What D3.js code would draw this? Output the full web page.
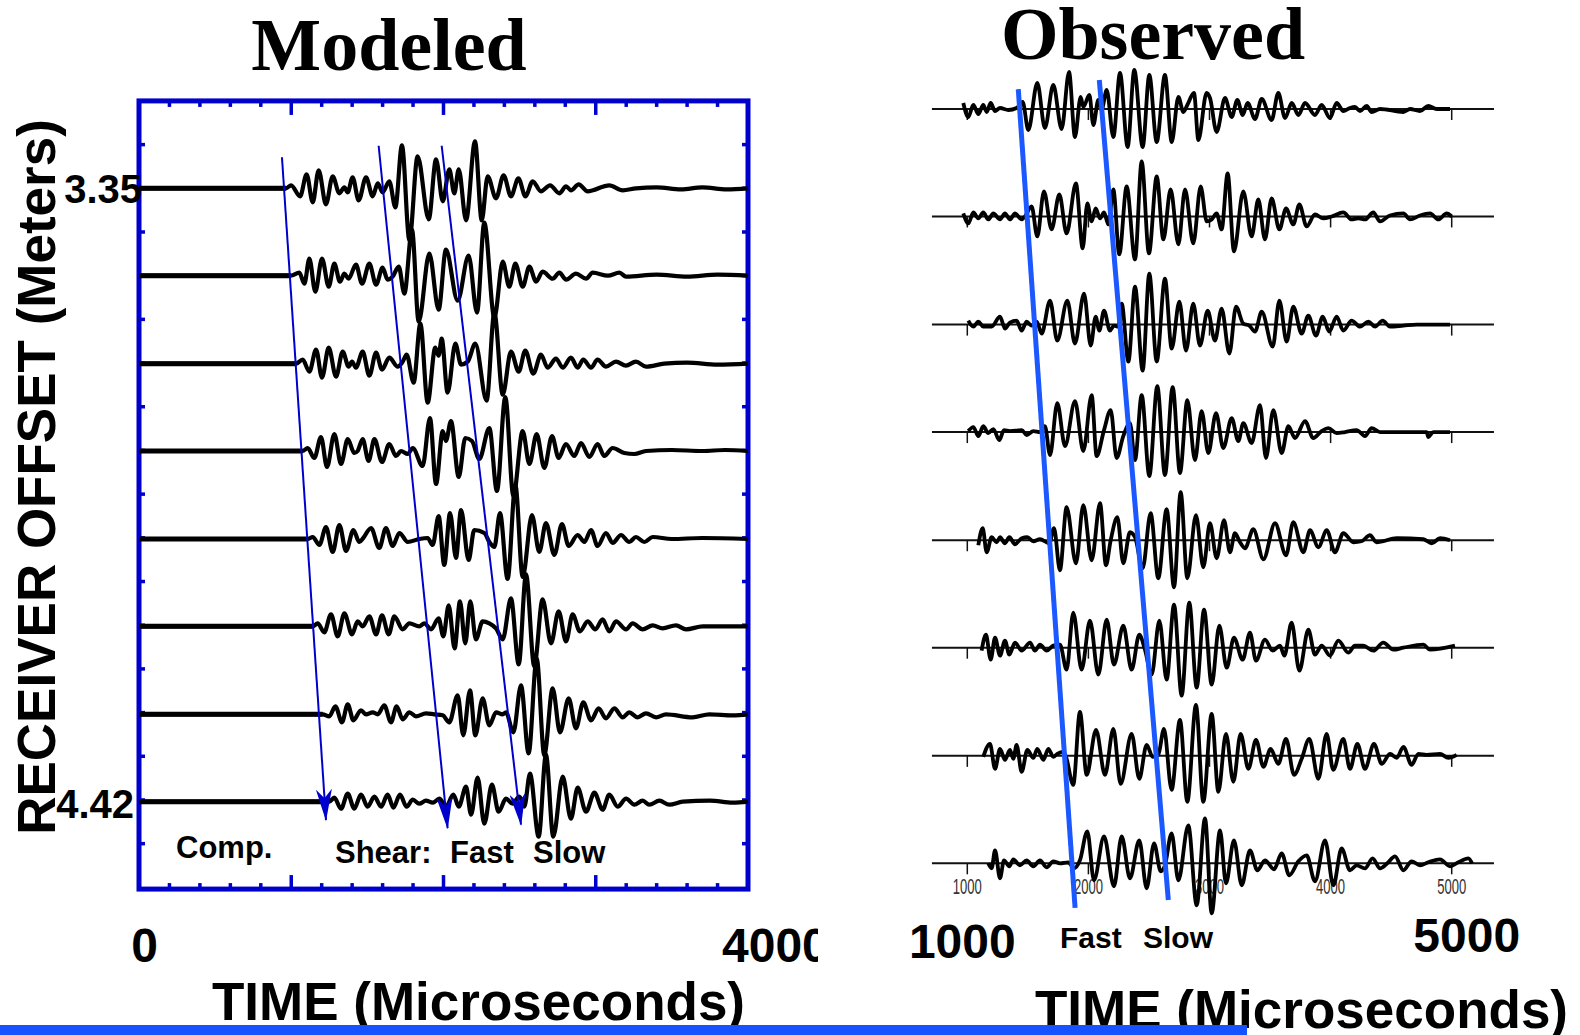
<!DOCTYPE html>
<html>
<head>
<meta charset="utf-8">
<script src="https://cdn.jsdelivr.net/npm/d3@7"></script>
<style>
  html, body { margin: 0; padding: 0; background: #fff; }
  svg { display: block; }
</style>
</head>
<body>
<svg id="chart" width="1580" height="1035"></svg>
<script>
// Receiver offsets (m), one per trace, top to bottom
const offsets = [3.350, 3.502, 3.655, 3.807, 3.960, 4.112, 4.265, 4.417];
const offsetTickValues = [3.35, 4.42];

// Modeled waveforms: [time (µs), amplitude] at successive turning points
const modeled1 = [[0,0],[966,0],[999,3],[1058,-8],[1101,14],[1141,-14],[1180,18],[1228,-16],[1272,12],[1316,-5],[1349,1],[1371,-4],[1403,11],[1443,-12],[1491,11],[1535,-8],[1568,5],[1600,-4],[1644,7],[1684,-19],[1727,43],[1776,-52],[1830,32],[1903,-31],[1951,29],[1995,-13],[2038,19],[2071,-5],[2100,19],[2148,-32],[2207,47],[2251,-32],[2290,12],[2345,-10],[2395,13],[2443,-8],[2492,10],[2538,-8],[2586,7],[2640,-3],[2700,3],[2761,-5],[2805,2],[2837,-2],[2888,4],[2947,-3],[3089,3],[3177,-2],[3264,0],[3400,1],[3560,-1],[3700,1],[3860,-1],[4000,0]];
const modeled2 = [[0,0],[998,0],[1053,3],[1086,-8],[1119,17],[1158,-16],[1202,17],[1246,-11],[1283,12],[1320,-6],[1349,2],[1377,-3],[1425,11],[1465,-8],[1513,12],[1557,-9],[1600,8],[1633,-4],[1666,-1],[1706,9],[1743,-18],[1793,46],[1837,-46],[1907,22],[1968,-34],[2016,26],[2093,-25],[2165,20],[2220,-37],[2268,53],[2334,-42],[2389,14],[2432,-11],[2472,12],[2520,-11],[2564,9],[2608,-6],[2651,4],[2717,-3],[2761,3],[2805,-4],[2870,2],[2936,-3],[2980,3],[3080,0],[3155,3],[3199,-1],[3400,1],[3600,-1],[3800,1],[4000,0]];
const modeled3 = [[0,0],[1031,0],[1075,4],[1119,-8],[1163,14],[1202,-14],[1246,16],[1294,-13],[1338,12],[1377,-3],[1399,2],[1425,-4],[1469,12],[1513,-12],[1557,11],[1596,-6],[1644,6],[1699,-3],[1732,2],[1758,9],[1804,-19],[1848,40],[1896,-39],[1946,16],[1968,8],[1988,25],[2027,-29],[2078,20],[2115,-1],[2159,2],[2209,20],[2283,-37],[2334,51],[2389,-31],[2443,12],[2494,-8],[2537,13],[2590,-10],[2640,9],[2684,-4],[2739,5],[2783,-4],[2837,6],[2881,-4],[2918,4],[2969,-4],[3012,4],[3067,-3],[3133,2],[3198,-2],[3264,2],[3330,-3],[3450,0],[3600,1],[3800,-1],[4000,0]];
const modeled4 = [[0,0],[1075,0],[1108,3],[1152,-7],[1195,14],[1235,-16],[1283,17],[1327,-13],[1371,12],[1414,-2],[1436,0],[1469,12],[1508,-10],[1546,12],[1596,-11],[1644,7],[1688,-5],[1721,0],[1765,-3],[1798,3],[1863,-15],[1911,33],[1951,-33],[1995,20],[2016,10],[2049,30],[2100,-26],[2143,13],[2187,10],[2235,-8],[2301,23],[2351,-40],[2406,54],[2459,-45],[2520,20],[2564,-13],[2612,17],[2662,-17],[2713,15],[2756,-7],[2804,7],[2859,-5],[2903,8],[2958,-6],[3012,7],[3056,-5],[3111,3],[3188,-2],[3253,-3],[3330,0],[3500,1],[3700,0],[3850,1],[4000,0]];
const modeled5 = [[0,0],[1108,0],[1141,2],[1185,-6],[1228,12],[1272,-13],[1316,14],[1360,-12],[1408,9],[1447,-3],[1473,1],[1524,11],[1578,-9],[1622,11],[1666,-7],[1710,6],[1765,-3],[1841,0],[1896,1],[1929,-6],[1968,23],[2005,-26],[2043,26],[2082,-19],[2115,29],[2165,-21],[2202,9],[2268,6],[2301,-3],[2334,-8],[2371,26],[2421,-40],[2472,54],[2520,-38],[2581,24],[2629,-13],[2673,16],[2728,-16],[2778,15],[2822,-7],[2881,4],[2925,-3],[2969,9],[3012,-7],[3067,6],[3111,-4],[3166,4],[3220,-3],[3264,2],[3319,-3],[3374,2],[3500,0],[3700,1],[4000,0]];
const modeled6 = [[0,0],[1141,0],[1174,3],[1217,-6],[1261,12],[1305,-10],[1349,13],[1399,-8],[1436,5],[1469,0],[1513,10],[1557,-8],[1596,11],[1640,-8],[1677,10],[1732,-3],[1776,3],[1841,0],[1874,3],[1918,-3],[1968,8],[1999,-10],[2034,21],[2073,-22],[2108,25],[2143,-17],[2176,25],[2213,-13],[2257,5],[2301,3],[2345,-2],[2389,-13],[2443,28],[2494,-38],[2542,52],[2596,-40],[2651,27],[2706,-17],[2756,15],[2805,-15],[2848,12],[2896,-5],[2947,5],[2997,-3],[3045,7],[3089,-5],[3133,5],[3199,-3],[3242,3],[3308,-3],[3374,1],[3439,-2],[3527,1],[3593,-3],[3702,0],[4000,0]];
const modeled7 = [[0,0],[1206,0],[1250,-2],[1290,8],[1333,-8],[1371,10],[1408,-6],[1458,4],[1491,0],[1535,2],[1568,0],[1611,9],[1655,-8],[1692,8],[1732,-5],[1776,2],[1819,-2],[1885,1],[1940,0],[1995,-1],[2038,-8],[2093,19],[2130,-21],[2174,24],[2209,-21],[2257,16],[2301,-11],[2345,2],[2389,0],[2410,2],[2459,-18],[2509,29],[2559,-39],[2612,56],[2662,-41],[2717,26],[2765,-18],[2822,16],[2870,-14],[2918,12],[2969,-6],[3019,6],[3067,-4],[3122,6],[3177,-3],[3220,2],[3275,-3],[3330,1],[3396,-3],[3461,0],[3636,-3],[3746,0],[3900,-1],[4000,0]];
const modeled8 = [[0,0],[1250,0],[1283,4],[1327,-7],[1371,8],[1414,-7],[1458,7],[1502,-5],[1546,5],[1590,-5],[1633,7],[1671,-6],[1714,7],[1758,-5],[1798,2],[1841,-2],[1885,1],[1929,-1],[1973,3],[2016,-5],[2065,7],[2100,-5],[2148,15],[2181,-13],[2224,24],[2268,-22],[2318,17],[2362,-10],[2410,3],[2454,-2],[2498,5],[2531,-5],[2568,28],[2625,-35],[2673,47],[2721,-35],[2783,25],[2837,-17],[2881,14],[2936,-10],[2991,9],[3045,-8],[3089,7],[3144,-5],[3199,3],[3253,-3],[3308,1],[3352,-3],[3418,1],[3483,-3],[3571,0],[3750,1],[3900,-1],[4000,0]];

// Observed waveforms: [time (µs), amplitude] at successive turning points
const observed1 = [[967,6],[1008,-8],[1050,4],[1091,-5],[1132,4],[1160,-3],[1193,6],[1229,-2],[1270,1],[1339,-1],[1407,1],[1457,7],[1504,-21],[1578,26],[1641,-19],[1710,24],[1779,-20],[1840,37],[1889,-28],[1936,12],[1958,2],[2008,14],[2041,-16],[2082,9],[2109,-1],[2151,19],[2206,-28],[2261,36],[2324,-38],[2379,39],[2448,-38],[2503,34],[2564,-33],[2632,34],[2688,-33],[2743,12],[2784,-3],[2817,4],[2872,16],[2908,-31],[2976,16],[3004,11],[3059,-23],[3128,11],[3183,-8],[3230,9],[3274,-6],[3315,6],[3376,-10],[3431,10],[3513,-11],[3568,16],[3624,-9],[3679,6],[3734,-6],[3789,6],[3871,-6],[3926,4],[3995,-9],[4050,6],[4105,-2],[4160,1],[4201,2],[4243,-2],[4298,3],[4339,-3],[4408,0],[4601,-3],[4656,0],[4738,-2],[4807,3],[4876,0],[4986,0]];
const observed2 = [[967,3],[1008,-7],[1050,4],[1091,-2],[1132,4],[1173,-3],[1215,3],[1270,-3],[1311,3],[1352,-3],[1394,3],[1449,-3],[1476,0],[1531,10],[1578,-20],[1633,25],[1696,-13],[1760,22],[1820,-17],[1897,33],[1953,-32],[1991,13],[2027,-5],[2060,8],[2096,-2],[2129,4],[2165,-8],[2206,27],[2255,-38],[2316,30],[2385,-43],[2440,55],[2500,-37],[2564,40],[2619,-23],[2679,27],[2743,-28],[2798,27],[2866,-27],[2927,30],[2977,-5],[3018,-3],[3059,3],[3100,-13],[3150,43],[3202,-35],[3279,25],[3348,-20],[3403,17],[3458,-23],[3513,18],[3577,-13],[3632,8],[3692,-8],[3742,12],[3802,-10],[3871,2],[3940,-2],[4009,0],[4105,4],[4174,-3],[4229,-2],[4284,-3],[4353,4],[4408,-5],[4490,1],[4601,3],[4656,-3],[4738,1],[4821,3],[4890,-3],[4958,3],[5000,0]];
const observed3 = [[1008,4],[1050,-2],[1091,3],[1132,-2],[1201,-2],[1270,8],[1311,-4],[1352,2],[1407,4],[1449,-6],[1490,3],[1531,-1],[1573,3],[1614,-9],[1683,24],[1743,-16],[1826,24],[1889,-19],[1964,31],[2019,-21],[2060,8],[2090,-6],[2129,14],[2178,-6],[2211,-1],[2247,-2],[2275,21],[2330,-37],[2385,38],[2448,-46],[2503,51],[2564,-37],[2632,46],[2688,-24],[2751,23],[2806,-26],[2866,21],[2921,-21],[2985,14],[3045,-16],[3100,16],[3164,-29],[3219,18],[3279,1],[3329,-1],[3376,-7],[3431,13],[3522,-22],[3577,24],[3637,-17],[3692,18],[3761,-9],[3816,9],[3879,-11],[3935,8],[3989,-7],[4050,8],[4105,-6],[4174,4],[4243,-2],[4312,3],[4367,-2],[4430,4],[4490,-2],[4601,-1],[4711,0],[4986,0]];
const observed4 = [[1008,1],[1050,5],[1091,-4],[1132,6],[1173,-1],[1215,3],[1264,-8],[1303,2],[1352,1],[1449,2],[1490,-3],[1545,1],[1600,0],[1641,6],[1683,-23],[1743,29],[1807,-14],[1889,31],[1958,-19],[2027,37],[2068,-24],[2129,2],[2184,22],[2233,-26],[2288,-4],[2343,9],[2385,-28],[2440,37],[2503,-44],[2569,46],[2632,-43],[2696,45],[2756,-41],[2817,32],[2880,-28],[2935,21],[2990,-21],[3054,19],[3114,-16],[3183,14],[3238,-9],[3279,9],[3348,-11],[3417,27],[3466,-26],[3527,22],[3596,-21],[3651,6],[3706,-6],[3789,11],[3857,-6],[3926,1],[3981,4],[4050,-1],[4119,0],[4215,2],[4284,-4],[4339,4],[4408,0],[4793,0],[4807,-5],[4848,0],[4986,0]];
const observed5 = [[1091,-5],[1127,12],[1160,-12],[1201,3],[1242,-2],[1270,3],[1311,-3],[1347,3],[1394,-4],[1449,2],[1496,3],[1545,-1],[1600,1],[1677,-3],[1716,12],[1765,-30],[1820,33],[1897,-23],[1958,35],[2027,-20],[2096,37],[2145,-25],[2184,0],[2239,23],[2288,-23],[2343,8],[2385,3],[2448,-28],[2514,27],[2577,-38],[2646,31],[2707,-47],[2762,48],[2817,-38],[2888,25],[2949,-27],[3004,17],[3059,-18],[3120,20],[3169,-12],[3210,7],[3252,-2],[3293,-8],[3362,11],[3445,-19],[3541,17],[3632,-15],[3692,18],[3775,-12],[3830,10],[3899,-7],[3968,10],[4036,-12],[4105,7],[4188,-2],[4256,-1],[4325,5],[4380,-2],[4546,2],[4766,1],[4835,-3],[4904,2],[4986,0]];
const observed6 = [[1118,-3],[1154,13],[1193,-12],[1229,10],[1270,-8],[1311,7],[1347,-7],[1394,5],[1449,-3],[1518,5],[1559,-3],[1600,3],[1655,-3],[1710,2],[1765,3],[1820,-22],[1875,35],[1944,-22],[2013,27],[2082,-27],[2151,28],[2211,-17],[2288,22],[2357,-22],[2420,13],[2467,-2],[2522,-27],[2586,27],[2646,-32],[2707,43],[2770,-48],[2833,45],[2894,-40],[2955,38],[3018,-37],[3081,22],[3142,-20],[3202,10],[3274,-12],[3334,15],[3384,-13],[3458,8],[3522,-3],[3582,2],[3618,-8],[3678,25],[3742,-23],[3816,18],[3871,-7],[3926,2],[3995,-8],[4064,7],[4146,-5],[4201,2],[4270,2],[4353,-3],[4435,5],[4518,-2],[4601,0],[4766,3],[4821,-2],[5027,2]];
const observed7 = [[1132,-1],[1187,12],[1229,-13],[1270,7],[1311,-4],[1352,6],[1380,-3],[1407,11],[1449,-16],[1496,6],[1545,-2],[1578,7],[1628,-4],[1669,7],[1710,-1],[1743,2],[1793,4],[1815,-1],[1875,-29],[1930,44],[1986,-19],[2063,26],[2137,-19],[2206,27],[2266,-28],[2357,22],[2420,-23],[2481,11],[2531,-1],[2577,1],[2624,27],[2687,-34],[2756,36],[2817,-46],[2888,51],[2949,-46],[3018,42],[3073,-36],[3136,22],[3197,-26],[3257,22],[3321,-13],[3384,16],[3445,-11],[3505,7],[3568,-8],[3632,17],[3698,-19],[3761,-3],[3824,17],[3899,-23],[3967,22],[4022,-14],[4105,17],[4160,-13],[4221,12],[4284,-13],[4358,12],[4422,-8],[4491,2],[4546,-2],[4601,9],[4669,-9],[4725,2],[4793,1],[4903,2],[4972,-2],[5041,1]];
const observed8 = [[1173,0],[1201,-5],[1229,13],[1270,-15],[1303,3],[1347,-3],[1380,4],[1435,-2],[1490,3],[1545,-3],[1600,3],[1655,-4],[1710,2],[1765,0],[1834,1],[1881,-5],[1930,3],[1991,32],[2046,-17],[2129,27],[2211,-23],[2275,27],[2343,-15],[2420,23],[2481,-25],[2542,20],[2597,-8],[2632,-2],[2687,30],[2743,-17],[2825,38],[2894,-42],[2963,45],[3018,-50],[3087,33],[3136,-20],[3202,23],[3266,-22],[3334,13],[3395,-7],[3458,3],[3533,-6],[3596,10],[3659,-12],[3734,2],[3802,8],[3871,-18],[3954,23],[4023,-22],[4091,15],[4160,-7],[4215,-2],[4284,-5],[4347,5],[4408,-5],[4468,0],[4532,7],[4601,-7],[4669,2],[4738,-2],[4807,1],[4903,4],[4986,-3],[5055,1],[5138,5],[5168,0]];

// Arrival moveout picks: [time (µs), offset (m)] at both ends
const modeledCompPick = [[939, 3.296], [1228, 4.449]];
const modeledFastPick = [[1574, 3.276], [2027, 4.463]];
const modeledSlowPick = [[1988, 3.276], [2509, 4.457]];
const observedFastPick = [[1421, 3.322], [1890, 4.480]];
const observedSlowPick = [[2090, 3.309], [2660, 4.469]];

// Time axes
const modeledTimeRange = [0, 4000];
const observedTimeTicks = [1000, 2000, 3000, 4000, 5000];
const observedTimeSpan = [708, 5349];

const modeledTraces = [modeled1, modeled2, modeled3, modeled4, modeled5, modeled6, modeled7, modeled8];
const observedTraces = [observed1, observed2, observed3, observed4, observed5, observed6, observed7, observed8];

const SANS = "'Liberation Sans', Arial, Helvetica, sans-serif";
const SERIF = "'Liberation Serif', 'Times New Roman', serif";
const FRAME_BLUE = "#0000cc";
const PICK_BLUE = "#1c58ff";

const svg = d3.select("#chart");
const defs = svg.append("defs");

// ---------- scales ----------
const xL = d3.scaleLinear().domain(modeledTimeRange).range([139, 748]);
const yL = d3.scaleLinear().domain([offsets[0], offsets[offsets.length - 1]]).range([188.3, 801.7]);
const xR = d3.scaleLinear().domain([1000, 5000]).range([967.3, 1451.7]);
const yR = d3.scaleLinear().domain([offsets[0], offsets[offsets.length - 1]]).range([109, 863.3]);
const amp = d3.scaleLinear().domain([0, 10]).range([0, -10]);
const step = offsets[1] - offsets[0];

// ---------- modeled panel ----------
const left = svg.append("g").attr("class", "modeled");

const fx0 = xL(modeledTimeRange[0]), fx1 = xL(modeledTimeRange[1]);
const fy0 = yL(offsets[0] - step), fy1 = yL(offsets[offsets.length - 1] + step);

// frame ticks: time every 200 µs (long every 1000), offset every half spacing
const tickG = left.append("g").attr("stroke", FRAME_BLUE).attr("stroke-width", 3.5);
d3.range(200, 4000, 200).forEach(t => {
  const len = t % 1000 === 0 ? 14 : 6;
  tickG.append("line").attr("x1", xL(t)).attr("x2", xL(t)).attr("y1", fy0).attr("y2", fy0 + len);
  tickG.append("line").attr("x1", xL(t)).attr("x2", xL(t)).attr("y1", fy1).attr("y2", fy1 - len);
});
d3.range(1, 2 * (offsets.length + 1)).forEach(k => {
  const y = yL(offsets[0] - step + k * step / 2);
  tickG.append("line").attr("x1", fx0).attr("x2", fx0 + 6).attr("y1", y).attr("y2", y);
  tickG.append("line").attr("x1", fx1).attr("x2", fx1 - 6).attr("y1", y).attr("y2", y);
});

left.append("rect")
  .attr("x", fx0).attr("y", fy0)
  .attr("width", fx1 - fx0).attr("height", fy1 - fy0)
  .attr("fill", "none").attr("stroke", FRAME_BLUE).attr("stroke-width", 5);

modeledTraces.forEach((trace, i) => {
  const base = yL(offsets[i]);
  const line = d3.line()
    .x(d => xL(d[0]))
    .y(d => base + amp(d[1]))
    .curve(d3.curveMonotoneX);
  // quiet lead-in before the first arrival is drawn a little heavier
  left.append("line")
    .attr("x1", xL(trace[0][0])).attr("x2", xL(trace[1][0]))
    .attr("y1", base).attr("y2", base)
    .attr("stroke", "#000").attr("stroke-width", 5);
  left.append("path")
    .attr("d", line(trace))
    .attr("fill", "none")
    .attr("stroke", "#000")
    .attr("stroke-width", 4.2)
    .attr("stroke-linejoin", "round");
});

// arrowhead for the moveout picks
defs.append("marker")
  .attr("id", "head")
  .attr("viewBox", "0 -8 32 16")
  .attr("refX", 31).attr("refY", 0)
  .attr("markerWidth", 32).attr("markerHeight", 16)
  .attr("markerUnits", "userSpaceOnUse")
  .attr("orient", "auto")
  .append("path")
  .attr("d", "M0,-8 L32,0 L0,8 L9,0 Z")
  .attr("fill", FRAME_BLUE);

[modeledCompPick, modeledFastPick, modeledSlowPick].forEach(p => {
  left.append("line")
    .attr("x1", xL(p[0][0])).attr("y1", yL(p[0][1]))
    .attr("x2", xL(p[1][0])).attr("y2", yL(p[1][1]))
    .attr("stroke", FRAME_BLUE).attr("stroke-width", 2)
    .attr("marker-end", "url(#head)");
});

// offset tick labels
const yAxis = d3.axisLeft(yL).tickValues(offsetTickValues).tickFormat(d3.format(".2f")).tickSize(0).tickPadding(0);
const yAxisG = left.append("g").attr("transform", `translate(${fx0 + 3},0)`).call(yAxis);
yAxisG.select(".domain").remove();
yAxisG.selectAll("text")
  .attr("font-family", SANS).attr("font-weight", "bold").attr("font-size", 40)
  .attr("fill", "#000").attr("dy", "0.36em")
  .attr("dx", (d, i) => i === offsetTickValues.length - 1 ? -8 : 0);

// phase labels
const lbl = (g, x, y, s, size) => g.append("text")
  .attr("x", x).attr("y", y).text(s)
  .attr("font-family", SANS).attr("font-weight", "bold")
  .attr("font-size", size).attr("fill", "#000");
lbl(left, 176, 858, "Comp.", 31);
lbl(left, 335, 863, "Shear:", 31);
lbl(left, 450, 863, "Fast", 31);
lbl(left, 533, 863, "Slow", 31);

// ---------- observed panel ----------
const right = svg.append("g").attr("class", "observed");

// small tick labels under the bottom trace
observedTimeTicks.forEach(t => {
  right.append("text")
    .attr("x", xR(t)).attr("y", 894)
    .attr("text-anchor", "middle")
    .attr("font-family", SANS).attr("font-size", 22)
    .attr("fill", "#333")
    .attr("textLength", 29).attr("lengthAdjust", "spacingAndGlyphs")
    .text(t);
});

observedTraces.forEach((trace, i) => {
  const base = yR(offsets[i]);
  right.append("line")
    .attr("x1", xR(observedTimeSpan[0])).attr("x2", xR(observedTimeSpan[1]))
    .attr("y1", base).attr("y2", base)
    .attr("stroke", "#111").attr("stroke-width", 2);
  observedTimeTicks.forEach(t => {
    right.append("line")
      .attr("x1", xR(t)).attr("x2", xR(t))
      .attr("y1", base).attr("y2", base + 11)
      .attr("stroke", "#111").attr("stroke-width", 1.5);
  });
  const line = d3.line()
    .x(d => xR(d[0]))
    .y(d => base + amp(d[1]))
    .curve(d3.curveMonotoneX);
  right.append("path")
    .attr("d", line(trace))
    .attr("fill", "none")
    .attr("stroke", "#000")
    .attr("stroke-width", 3.8)
    .attr("stroke-linejoin", "round");
});

[observedFastPick, observedSlowPick].forEach(p => {
  right.append("line")
    .attr("x1", xR(p[0][0])).attr("y1", yR(p[0][1]))
    .attr("x2", xR(p[1][0])).attr("y2", yR(p[1][1]))
    .attr("stroke", PICK_BLUE).attr("stroke-width", 5);
});

lbl(right, 1060, 948, "Fast", 30);
lbl(right, 1143, 948, "Slow", 30);

// ---------- titles and axis captions ----------
svg.append("text").attr("x", 389).attr("y", 70).attr("text-anchor", "middle")
  .attr("font-family", SERIF).attr("font-weight", "bold").attr("font-size", 74)
  .text("Modeled");
svg.append("text").attr("x", 1153).attr("y", 59).attr("text-anchor", "middle")
  .attr("font-family", SERIF).attr("font-weight", "bold").attr("font-size", 74)
  .text("Observed");

svg.append("text")
  .attr("transform", "translate(55,477) rotate(-90)")
  .attr("text-anchor", "middle")
  .attr("font-family", SANS).attr("font-weight", "bold").attr("font-size", 53)
  .text("RECEIVER OFFSET (Meters)");

defs.append("clipPath").attr("id", "leftClip")
  .append("rect").attr("x", 0).attr("y", 0).attr("width", 818).attr("height", 1035);

const big = (g, x, y, s, anchor) => g.append("text")
  .attr("x", x).attr("y", y).attr("text-anchor", anchor)
  .attr("font-family", SANS).attr("font-weight", "bold").attr("font-size", 48)
  .text(s);
const leftCap = svg.append("g").attr("clip-path", "url(#leftClip)");
big(leftCap, xL(modeledTimeRange[0]) + 5.5, 962, modeledTimeRange[0], "middle");
big(leftCap, xL(modeledTimeRange[1]) - 26, 962, modeledTimeRange[1], "start");
big(svg, xR(1000) - 5, 958, "1000", "middle");
big(svg, xR(5000) + 15, 952, "5000", "middle");

svg.append("text").attr("x", 212).attr("y", 1020)
  .attr("font-family", SANS).attr("font-weight", "bold").attr("font-size", 53)
  .text("TIME (Microseconds)");
svg.append("text").attr("x", 1035).attr("y", 1028)
  .attr("font-family", SANS).attr("font-weight", "bold").attr("font-size", 53)
  .text("TIME (Microseconds)");

// slide rule along the bottom
svg.append("rect").attr("x", 0).attr("y", 1025).attr("width", 1247).attr("height", 10)
  .attr("fill", "#1652ff");
</script>
</body>
</html>
